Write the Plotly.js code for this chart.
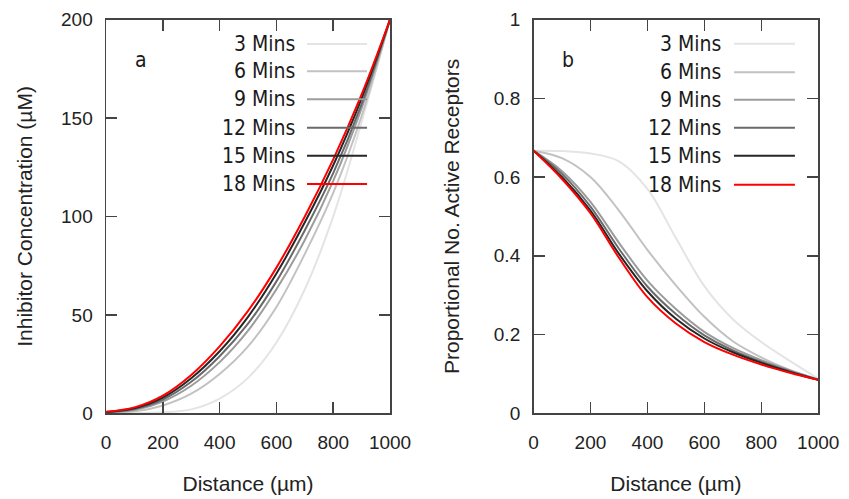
<!DOCTYPE html>
<html>
<head>
<meta charset="utf-8">
<script src="https://cdn.plot.ly/plotly-3.0.1.min.js"></script>
<style>html,body{margin:0;padding:0;background:#fff;}#chart{width:849px;height:499px;}</style>
</head>
<body>
<div id="chart"></div>
<script>
// Distance grid (µm)
const distance = [0, 100, 200, 300, 400, 500, 600, 700, 800, 900, 1000];
const seriesNames = ["3 Mins", "6 Mins", "9 Mins", "12 Mins", "15 Mins", "18 Mins"];

// Panel a: inhibitor concentration (µM)
const concA_3  = [0, 0.1, 0.5, 2, 7.5, 18, 36, 63, 100, 148, 200];
const concA_6  = [0.3, 1, 4, 10, 20, 34, 54, 81, 112, 151, 200];
const concA_9  = [0.5, 1.7, 6, 14, 26, 42, 63, 88, 118, 155, 200];
const concA_12 = [0.6, 2.2, 7, 16, 29, 45.5, 67, 93, 122, 157, 200];
const concA_15 = [0.7, 2.6, 8, 17.8, 31.5, 49, 71, 97, 126, 160, 200];
const concA_18 = [0.8, 3, 9, 19.5, 34, 52, 74, 100, 129, 162, 200];

// Panel b: proportional number of active receptors
const recB_3  = [0.667, 0.666, 0.660, 0.640, 0.570, 0.445, 0.323, 0.239, 0.181, 0.133, 0.088];
const recB_6  = [0.667, 0.648, 0.600, 0.515, 0.415, 0.325, 0.245, 0.183, 0.142, 0.110, 0.086];
const recB_9  = [0.667, 0.615, 0.537, 0.433, 0.337, 0.265, 0.207, 0.166, 0.135, 0.109, 0.086];
const recB_12 = [0.667, 0.608, 0.525, 0.418, 0.322, 0.252, 0.198, 0.160, 0.131, 0.107, 0.085];
const recB_15 = [0.667, 0.600, 0.515, 0.405, 0.310, 0.240, 0.190, 0.155, 0.128, 0.105, 0.085];
const recB_18 = [0.667, 0.595, 0.508, 0.395, 0.295, 0.228, 0.181, 0.149, 0.124, 0.103, 0.085];

const xTicks = [0, 200, 400, 600, 800, 1000];
const yTicksA = [0, 50, 100, 150, 200];
const yTicksB = [0, 0.2, 0.4, 0.6, 0.8, 1];
const yTickTextB = ["0", "0.2", "0.4", "0.6", "0.8", "1"];

const colors = ["#e4e4e4", "#c2c2c2", "#9c9c9c", "#6a6a6a", "#262626", "#ff0000"];
const dataA = [concA_3, concA_6, concA_9, concA_12, concA_15, concA_18];
const dataB = [recB_3, recB_6, recB_9, recB_12, recB_15, recB_18];

const traces = [];
dataA.forEach((ys, i) => traces.push({
  x: distance, y: ys, xaxis: "x", yaxis: "y", mode: "lines",
  line: {color: colors[i], width: 2, shape: "spline", smoothing: 1},
  name: seriesNames[i], showlegend: false, hoverinfo: "skip"
}));
dataB.forEach((ys, i) => traces.push({
  x: distance, y: ys, xaxis: "x2", yaxis: "y2", mode: "lines",
  line: {color: colors[i], width: 2, shape: "spline", smoothing: 1},
  name: seriesNames[i], showlegend: false, hoverinfo: "skip"
}));

const tickFont = {family: "Liberation Sans, Arial, sans-serif", size: 19, color: "#222"};
const titleFont = {family: "Liberation Sans, Arial, sans-serif", size: 21, color: "#222"};
const legFont = {family: "DejaVu Sans Condensed, DejaVu Sans, sans-serif", size: 21, color: "#1a1a1a"};

function xaxisDef(domain, anchor) {
  return {
    domain: domain, anchor: anchor, range: [0, 1000],
    tickvals: xTicks, ticktext: xTicks.map(String),
    ticks: "inside", ticklen: 11, tickwidth: 1.5, tickcolor: "#444",
    showline: true, linecolor: "#444", linewidth: 1.5, mirror: "ticks",
    showgrid: false, zeroline: false, tickfont: tickFont, ticklabelstandoff: 11,
    title: {text: "Distance (µm)", font: titleFont, standoff: 24}
  };
}
function yaxisDef(range, tv, tt, title, anchor, standoff) {
  return {
    domain: [0.1717, 0.9609], anchor: anchor, range: range,
    tickvals: tv, ticktext: tt,
    ticks: "inside", ticklen: 11, tickwidth: 1.5, tickcolor: "#444",
    showline: true, linecolor: "#444", linewidth: 1.5, mirror: "ticks",
    showgrid: false, zeroline: false, tickfont: tickFont, ticklabelstandoff: 8,
    title: {text: title, font: titleFont, standoff: standoff}
  };
}

const rowsA = [0.9378, 0.8685, 0.7974, 0.7252, 0.6541, 0.5823];
const rowsB = [0.9386, 0.8660, 0.7964, 0.7252, 0.6541, 0.5801];

const annotations = [];
const shapes = [];
seriesNames.forEach((nm, i) => {
  annotations.push({xref: "x domain", yref: "y domain", x: 0.6715, y: rowsA[i],
    xanchor: "right", yanchor: "middle", text: nm, showarrow: false, font: legFont});
  annotations.push({xref: "x2 domain", yref: "y2 domain", x: 0.664, y: rowsB[i],
    xanchor: "right", yanchor: "middle", text: nm, showarrow: false, font: legFont});
  shapes.push({type: "line", xref: "x domain", yref: "y domain", x0: 0.7077, x1: 0.919,
    y0: rowsA[i], y1: rowsA[i], line: {color: colors[i], width: 2}});
  shapes.push({type: "line", xref: "x2 domain", yref: "y2 domain", x0: 0.704, x1: 0.918,
    y0: rowsB[i], y1: rowsB[i], line: {color: colors[i], width: 2}});
});
annotations.push({xref: "x domain", yref: "y domain", x: 0.123, y: 0.897,
  xanchor: "center", yanchor: "middle", text: "a", showarrow: false, font: legFont});
annotations.push({xref: "x2 domain", yref: "y2 domain", x: 0.122, y: 0.897,
  xanchor: "center", yanchor: "middle", text: "b", showarrow: false, font: legFont});

const layout = {
  width: 849, height: 499,
  margin: {l: 0, r: 0, t: 0, b: 0},
  paper_bgcolor: "#fff", plot_bgcolor: "#fff",
  showlegend: false,
  xaxis: xaxisDef([0.1249, 0.4594], "y"),
  yaxis: yaxisDef([0, 200], yTicksA, yTicksA.map(String), "Inhibitor Concentration (µM)", "x", 22),
  xaxis2: xaxisDef([0.6284, 0.9638], "y2"),
  yaxis2: yaxisDef([0, 1], yTicksB, yTickTextB, "Proportional No. Active Receptors", "x2", 28),
  annotations: annotations,
  shapes: shapes
};

Plotly.newPlot("chart", traces, layout, {displayModeBar: false, staticPlot: true});
</script>
</body>
</html>
